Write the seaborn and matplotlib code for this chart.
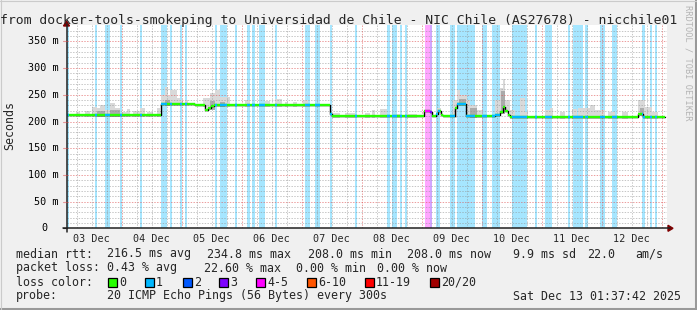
import numpy as np
import pandas as pd
import matplotlib
matplotlib.use("Agg")
import matplotlib.pyplot as plt
import seaborn as sns
from matplotlib.patches import Rectangle, Polygon
from matplotlib.lines import Line2D
from matplotlib.colors import to_rgb

# ------------------------------------------------------------------ data
# time axis: hours since 03 Dec 00:00
title = "from docker-tools-smokeping to Universidad de Chile - NIC Chile (AS27678) - nicchile01"
day_labels = ["03 Dec", "04 Dec", "05 Dec", "06 Dec", "07 Dec",
              "08 Dec", "09 Dec", "10 Dec", "11 Dec", "12 Dec"]
y_major = [0, 50, 100, 150, 200, 250, 300, 350]
y_major_labels = ["0", "50 m", "100 m", "150 m", "200 m", "250 m", "300 m", "350 m"]
x_range = (2.12, 242.12)

# median rtt (ms), step function
median_start = [2.1, 39.7, 53.3, 55.3, 57.3, 58.5, 59.7, 60.9, 107.3, 108.1,
                144.9, 147.3, 148.1, 149.7, 150.5, 151.7, 152.5, 157.3, 158.1,
                161.7, 173.3, 175.3, 176.5, 177.3, 178.5, 179.3, 230.5, 232.5]
median_ms = [212, 232, 230, 231, 222, 225, 229, 231, 215, 210,
             219, 217, 210, 215, 220, 213, 210, 226, 232,
             210, 212, 218, 228, 220, 213, 208, 214, 208]
median_end = 241.3

# packet-loss periods (hours) and loss class index
loss_start = [2.1, 13.3, 17.3, 23.3, 31.3, 39.7, 43.3, 47.3, 49.3, 61.3, 63.3,
              69.3, 74.1, 76.1, 78.9, 85.3, 97.3, 101.3, 107.3, 117.3, 130.1,
              132.1, 135.3, 137.3, 145.3, 147.3, 149.7, 155.3, 158.1, 168.1,
              172.1, 180.1, 189.3, 193.3, 202.5, 204.5, 209.3, 215.5, 220.1,
              232.1, 235.3, 237.3]
loss_end = [2.9, 14.1, 19.3, 24.1, 32.1, 42.1, 44.1, 48.1, 50.1, 62.1, 66.1,
            70.1, 75.3, 77.3, 81.3, 86.1, 99.3, 103.3, 108.1, 118.1, 131.3,
            134.1, 136.1, 138.1, 147.3, 148.1, 151.3, 157.3, 165.3, 170.1,
            175.3, 186.1, 190.1, 196.1, 203.3, 208.5, 210.5, 217.3, 222.1,
            233.3, 236.1, 238.1]
loss_class = [1] * 24 + [4, 3] + [1] * 16

# smoke (spread of the 20 pings): outer top values
smoke_start = [5.7, 9.3, 12.1, 14.1, 15.3, 17.3, 19.3, 21.3, 24.1, 26.1, 28.5,
               31.3, 34.1, 38.1, 39.7, 41.3, 42.5, 43.3, 44.5, 46.1, 47.3, 49.3,
               56.5, 58.1, 59.3, 61.3, 63.3, 65.3, 73.3, 81.3, 85.3, 89.3, 92.5,
               96.5, 108.1, 113.3, 121.3, 124.1, 127.3, 134.1, 138.1, 150.1,
               156.5, 158.1, 159.3, 162.1, 163.3, 166.1, 173.3, 175.3, 176.5,
               177.3, 179.3, 183.3, 185.3, 193.3, 195.3, 199.3, 204.1, 206.5,
               211.3, 213.3, 218.5, 224.1, 230.5, 233.3, 236.1]
smoke_end = [7.3, 11.3, 14.1, 15.3, 17.3, 19.3, 21.3, 23.3, 26.1, 27.3, 31.3,
             33.3, 36.5, 39.3, 41.3, 42.5, 43.3, 44.5, 46.1, 47.3, 48.5, 50.5,
             58.1, 59.3, 61.3, 63.3, 65.3, 67.3, 75.3, 83.3, 88.1, 90.5, 94.1,
             98.5, 111.3, 117.3, 123.3, 125.3, 130.1, 135.3, 142.1, 151.7,
             158.1, 159.3, 162.1, 163.3, 166.1, 168.1, 175.3, 176.5, 177.3,
             179.3, 181.3, 185.3, 186.5, 195.3, 196.5, 201.3, 206.1, 211.3,
             213.3, 217.3, 221.3, 226.5, 233.3, 236.1, 238.5]
smoke_top = [218, 220, 228, 225, 231, 221, 235, 225, 218, 223, 220,
             225, 217, 225, 250, 265, 248, 259, 259, 244, 240, 240,
             244, 244, 253, 259, 246, 246, 240, 239, 243, 237, 237,
             241, 216, 216, 216, 221, 223, 215, 215, 225,
             240, 259, 250, 240, 231, 221, 240, 262, 280,
             240, 221, 244, 218, 221, 225, 218, 223, 225,
             231, 221, 218, 218, 240, 227, 218]
# darker inner smoke
core_start = [14.1, 19.3, 41.3, 59.3, 63.3, 158.9, 163.3, 175.7, 231.3]
core_end = [17.3, 23.3, 43.3, 61.3, 65.3, 161.7, 166.1, 177.3, 232.9]
core_top = [220, 222, 240, 238, 236, 242, 226, 258, 226]

# legend
loss_labels = ["0", "1", "2", "3", "4-5", "6-10", "11-19", "20/20"]
loss_colors = ["#26ff00", "#00b8ff", "#0059ff", "#7e00ff", "#ff00ff",
               "#ff5500", "#ff0000", "#a10000"]
stats_rtt = ["median rtt:", "216.5 ms avg", "234.8 ms max", "208.0 ms min",
             "208.0 ms now", "9.9 ms sd", "22.0", "am/s"]
stats_loss = ["packet loss:", "0.43 % avg", "22.60 % max", "0.00 % min", "0.00 % now"]
probe_text = ["probe:", "20 ICMP Echo Pings (56 Bytes) every 300s", "Sat Dec 13 01:37:42 2025"]

# ------------------------------------------------------------------ layout
W, H = 697, 310
PX0, PX1, PY_TOP, PY_BOT = 67, 667, 25.4, 228.3
FS = 8.4

sns.set_theme(style="white")
plt.rcParams["font.family"] = ["DejaVu Sans Mono"]


def fx(px):
    return px / W


def fy(py):
    return 1 - py / H


def lighten(c, a=0.35):
    r = to_rgb(c)
    return tuple(1 - a * (1 - v) for v in r)


fig = plt.figure(figsize=(W / 100, H / 100), dpi=100, facecolor="#f0f0f0")
ax = fig.add_axes([fx(PX0), fy(PY_BOT), (PX1 - PX0) / W, (PY_BOT - PY_TOP) / H])
ax.set_facecolor("white")
ax.set_xlim(*x_range)
ax.set_ylim(0, 380)
for s in ax.spines.values():
    s.set_visible(False)

# loss bands
for s, e, c in zip(loss_start, loss_end, loss_class):
    ax.axvspan(s, e, color=lighten(loss_colors[c]), lw=0, zorder=0)

# smoke
med_arr = np.array(median_start)


def med_at(t):
    i = np.searchsorted(med_arr, t, side="right") - 1
    return median_ms[max(i, 0)]


sb = np.array([med_at(s) - 3 for s in smoke_start])
ax.bar(smoke_start, np.array(smoke_top) - sb, width=np.array(smoke_end) - np.array(smoke_start),
       bottom=sb, align="edge", color="#d9d9d9", linewidth=0, zorder=1)
cb = np.array([med_at(s) - 3 for s in core_start])
ax.bar(core_start, np.array(core_top) - cb, width=np.array(core_end) - np.array(core_start),
       bottom=cb, align="edge", color="#ababab", linewidth=0, zorder=1.1)

# grid
minor_c = (0.56, 0.56, 0.56, 0.5)
major_c = (0.87, 0.31, 0.31, 0.55)
for y in range(10, 380, 10):
    ax.axhline(y, color=major_c if y % 50 == 0 else minor_c, lw=0.72,
               ls=(0, (1.4, 1.4)), zorder=2)
for h in range(0, 246, 6):
    if x_range[0] < h < x_range[1]:
        ax.axvline(h, color=major_c if h % 24 == 0 else minor_c, lw=0.72,
                   ls=(0, (1.4, 1.4)), zorder=2)

# median line: black step line then loss-coloured segments
df_med = pd.DataFrame({"hour": median_start + [median_end],
                       "ms": median_ms + [median_ms[-1]]})
sns.lineplot(data=df_med, x="hour", y="ms", drawstyle="steps-post", color="black",
             lw=1.0, ax=ax, zorder=3, legend=False, errorbar=None)
seg_end = median_start[1:] + [median_end]
ax.hlines(median_ms, median_start, seg_end, color=loss_colors[0], lw=1.7, zorder=4)
for s, e, c in zip(loss_start, loss_end, loss_class):
    for a, b, v in zip(median_start, seg_end, median_ms):
        lo, hi = max(s, a), min(e, b)
        if hi > lo:
            ax.hlines(v, lo, hi, color=loss_colors[c], lw=1.7, zorder=5)

ax.set_xlabel("")
ax.set_ylabel("")
ax.set_xticks([])
ax.set_yticks([])

# axes lines and arrows
axis_c = (0.13, 0.13, 0.13)
arrow_c = "#800000"
fig.add_artist(Line2D([fx(63), fx(670)], [fy(PY_BOT), fy(PY_BOT)], color=axis_c, lw=1.1))
fig.add_artist(Line2D([fx(PX0 - 0.5), fx(PX0 - 0.5)], [fy(232), fy(24)], color=axis_c, lw=1.1))
fig.add_artist(Polygon([(fx(668), fy(PY_BOT - 3)), (fx(668), fy(PY_BOT + 3)), (fx(673), fy(PY_BOT))],
                       closed=True, color=arrow_c, transform=fig.transFigure))
fig.add_artist(Polygon([(fx(PX0 - 3.5), fy(26)), (fx(PX0 + 2.5), fy(26)), (fx(PX0 - 0.5), fy(21))],
                       closed=True, color=arrow_c, transform=fig.transFigure))
# small ticks
for y in y_major:
    py = PY_BOT - y * (PY_BOT - PY_TOP) / 380
    fig.add_artist(Line2D([fx(63), fx(PX0)], [fy(py), fy(py)], color=axis_c if y == 0 else major_c, lw=0.8))

# y tick labels
for y, lab in zip(y_major, y_major_labels):
    py = PY_BOT - y * (PY_BOT - PY_TOP) / 380
    fig.text(fx(47.5 if y == 0 else 58.5), fy(py), lab, ha="right", va="center",
             fontsize=7.3, color="black")

# day labels (at noon)
for k, lab in enumerate(day_labels):
    h = 12 + 24 * k
    px = PX0 + (h - x_range[0]) / (x_range[1] - x_range[0]) * (PX1 - PX0)
    fig.text(fx(px), fy(241.7), lab, ha="center", va="baseline", fontsize=7.3)

# axis label
fig.text(fx(10), fy(126), "Seconds", rotation=90, ha="center", va="center", fontsize=FS)

# title
fig.text(fx(-0.5), fy(24), title, ha="left", va="baseline", fontsize=9.45)

# watermark
fig.text(fx(688), fy(5), "RRDTOOL / TOBI OETIKER", rotation=270, ha="center", va="top",
         fontsize=6.2, color="#b4b4b4")

# legend lines
x_rtt = [16, 107, 207, 308, 407, 513, 587, 635]
for x, s in zip(x_rtt, stats_rtt):
    fig.text(fx(x), fy(257.5), s, ha="left", va="baseline", fontsize=FS)
x_loss = [16, 107, 204, 296, 377]
for x, s in zip(x_loss, stats_loss):
    fig.text(fx(x), fy(271.5), s, ha="left", va="baseline", fontsize=FS)
fig.text(fx(16), fy(285.5), "loss color:", ha="left", va="baseline", fontsize=FS)
box_x = [108, 145, 183, 219, 256, 307, 365, 430]
for bx, lab, col in zip(box_x, loss_labels, loss_colors):
    fig.add_artist(Rectangle((fx(bx), fy(287)), 9 / W, 9 / H, facecolor=col,
                             edgecolor="black", lw=0.9, transform=fig.transFigure))
    fig.text(fx(bx + 11), fy(285.5), lab, ha="left", va="baseline", fontsize=FS)
x_probe = [16, 107, 513]
for x, s in zip(x_probe, probe_text):
    fig.text(fx(x), fy(299.5), s, ha="left", va="baseline", fontsize=FS)

# frame
fig.add_artist(Line2D([0, 1], [fy(308.5), fy(308.5)], color="#999999", lw=2.2))
fig.add_artist(Line2D([fx(695.5), fx(695.5)], [0, 1], color="#999999", lw=2.2))
fig.add_artist(Line2D([0, 1], [fy(0.5), fy(0.5)], color="#cbcbcb", lw=0.8))
fig.add_artist(Line2D([fx(0.5), fx(0.5)], [0, 1], color="#cbcbcb", lw=0.8))

fig.savefig("out.png", dpi=100, facecolor=fig.get_facecolor())
